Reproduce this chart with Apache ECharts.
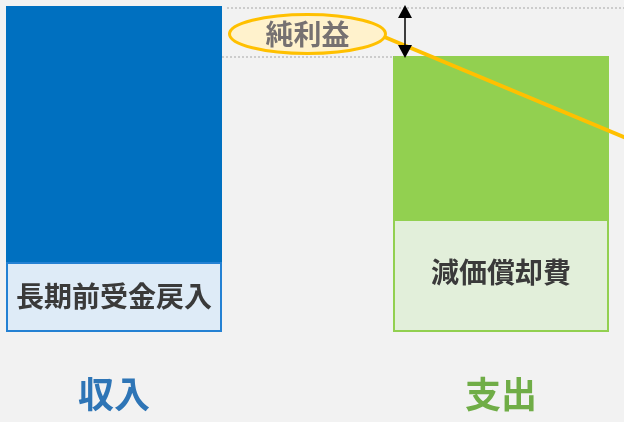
<!DOCTYPE html>
<html>
<head>
<meta charset="utf-8">
<script src="https://cdn.jsdelivr.net/npm/echarts@6/dist/echarts.min.js"></script>
<style>
html,body{margin:0;padding:0;background:#f2f2f2;}
#main{width:624px;height:422px;}
</style>
</head>
<body>
<div id="main"></div>
<script>
// ---- data ----
const categories = ['収入', '支出'];
const baseLabels = ['長期前受金戻入', '減価償却費'];
const baseValues = [70, 113];
const topValues = [256, 163];
const calloutLabel = '純利益';

// ---- styles ----
const FONT = '"Noto Sans CJK JP", "Noto Sans", sans-serif';
const topColors = ['#0070c0', '#92d050'];
const baseFill = ['#deebf7', '#e2efda'];
const baseBorder = ['#2481d3', '#92d050'];
const catColors = ['#2e75b6', '#70ad47'];
const labelOffsets = [[0, -1], [0, -3]];
const BAR_W = 216;

const chart = echarts.init(document.getElementById('main'), null, {renderer: 'canvas'});

const option = {
  backgroundColor: '#f2f2f2',
  animation: false,
  grid: {left: 114, right: 123, top: 6, bottom: 90, containLabel: false},
  xAxis: {
    type: 'category',
    data: categories,
    boundaryGap: false,
    axisLine: {show: false},
    axisTick: {show: false},
    splitLine: {show: false},
    axisLabel: {
      margin: 44,
      fontSize: 36,
      fontWeight: 'bold',
      fontFamily: FONT,
      color: (v, i) => catColors[categories.indexOf(v)]
    }
  },
  yAxis: {
    type: 'value', min: 0, max: 326, show: false,
    splitLine: {show: false}
  },
  series: [
    {
      type: 'bar', stack: 'a', barWidth: BAR_W, clip: false,
      data: baseValues.map((v, i) => ({
        value: v,
        name: baseLabels[i],
        itemStyle: {color: baseFill[i], borderColor: baseBorder[i], borderWidth: 2},
        label: {offset: labelOffsets[i]}
      })),
      label: {
        show: true, position: 'inside',
        formatter: p => p.name,
        fontSize: 28, fontWeight: 'bold', fontFamily: FONT, color: '#3a3a3a'
      }
    },
    {
      type: 'bar', stack: 'a', barWidth: BAR_W, clip: false,
      data: topValues.map((v, i) => ({
        value: v,
        itemStyle: {color: topColors[i]}
      }))
    }
  ]
};
chart.setOption(option);

// callout decorations computed from the axes
const pL = chart.convertToPixel({gridIndex: 0}, [0, baseValues[0] + topValues[0]]);
const pR = chart.convertToPixel({gridIndex: 0}, [1, baseValues[1] + topValues[1]]);
const half = BAR_W / 2;
const W = chart.getWidth();
const leftEdgeR = pR[0] - half;
const rightEdgeL = pL[0] + half;
const ax = leftEdgeR + 12;
const cx = (rightEdgeL + leftEdgeR) / 2;
const cy = (pL[1] + pR[1]) / 2 + 3;
const rx = 78, ry = 19.5;
const sx = cx + rx - 1, sy = cy + 3;
const slope = 0.418;

chart.setOption({
  graphic: [
    {type: 'line', shape: {x1: rightEdgeL + 5, y1: pL[1] + 2, x2: W, y2: pL[1] + 2},
     style: {stroke: '#a6a6a6', lineWidth: 1, lineDash: [2, 2]}, z: 10},
    {type: 'line', shape: {x1: rightEdgeL, y1: pR[1] + 1, x2: leftEdgeR + 2, y2: pR[1] + 1},
     style: {stroke: '#a6a6a6', lineWidth: 1, lineDash: [2, 2]}, z: 10},
    {type: 'line', shape: {x1: sx, y1: sy, x2: W + 5, y2: sy + (W + 5 - sx) * slope},
     style: {stroke: '#ffc000', lineWidth: 4}, z: 11},
    {type: 'ellipse', shape: {cx: cx, cy: cy, rx: rx, ry: ry},
     style: {fill: '#fff2cc', stroke: '#ffc000', lineWidth: 3}, z: 12},
    {type: 'text', x: cx, y: cy,
     style: {text: calloutLabel, align: 'center', verticalAlign: 'middle',
             font: 'bold 28px ' + FONT, fill: '#767171'}, z: 13},
    {type: 'line', shape: {x1: ax, y1: pL[1] + 8, x2: ax, y2: pR[1] - 6},
     style: {stroke: '#000', lineWidth: 1.5}, z: 14},
    {type: 'polygon', shape: {points: [[ax, pL[1] - 1], [ax - 7, pL[1] + 12], [ax + 7, pL[1] + 12]]},
     style: {fill: '#000'}, z: 14},
    {type: 'polygon', shape: {points: [[ax, pR[1] + 2], [ax - 7, pR[1] - 11], [ax + 7, pR[1] - 11]]},
     style: {fill: '#000'}, z: 14}
  ]
});
</script>
</body>
</html>
